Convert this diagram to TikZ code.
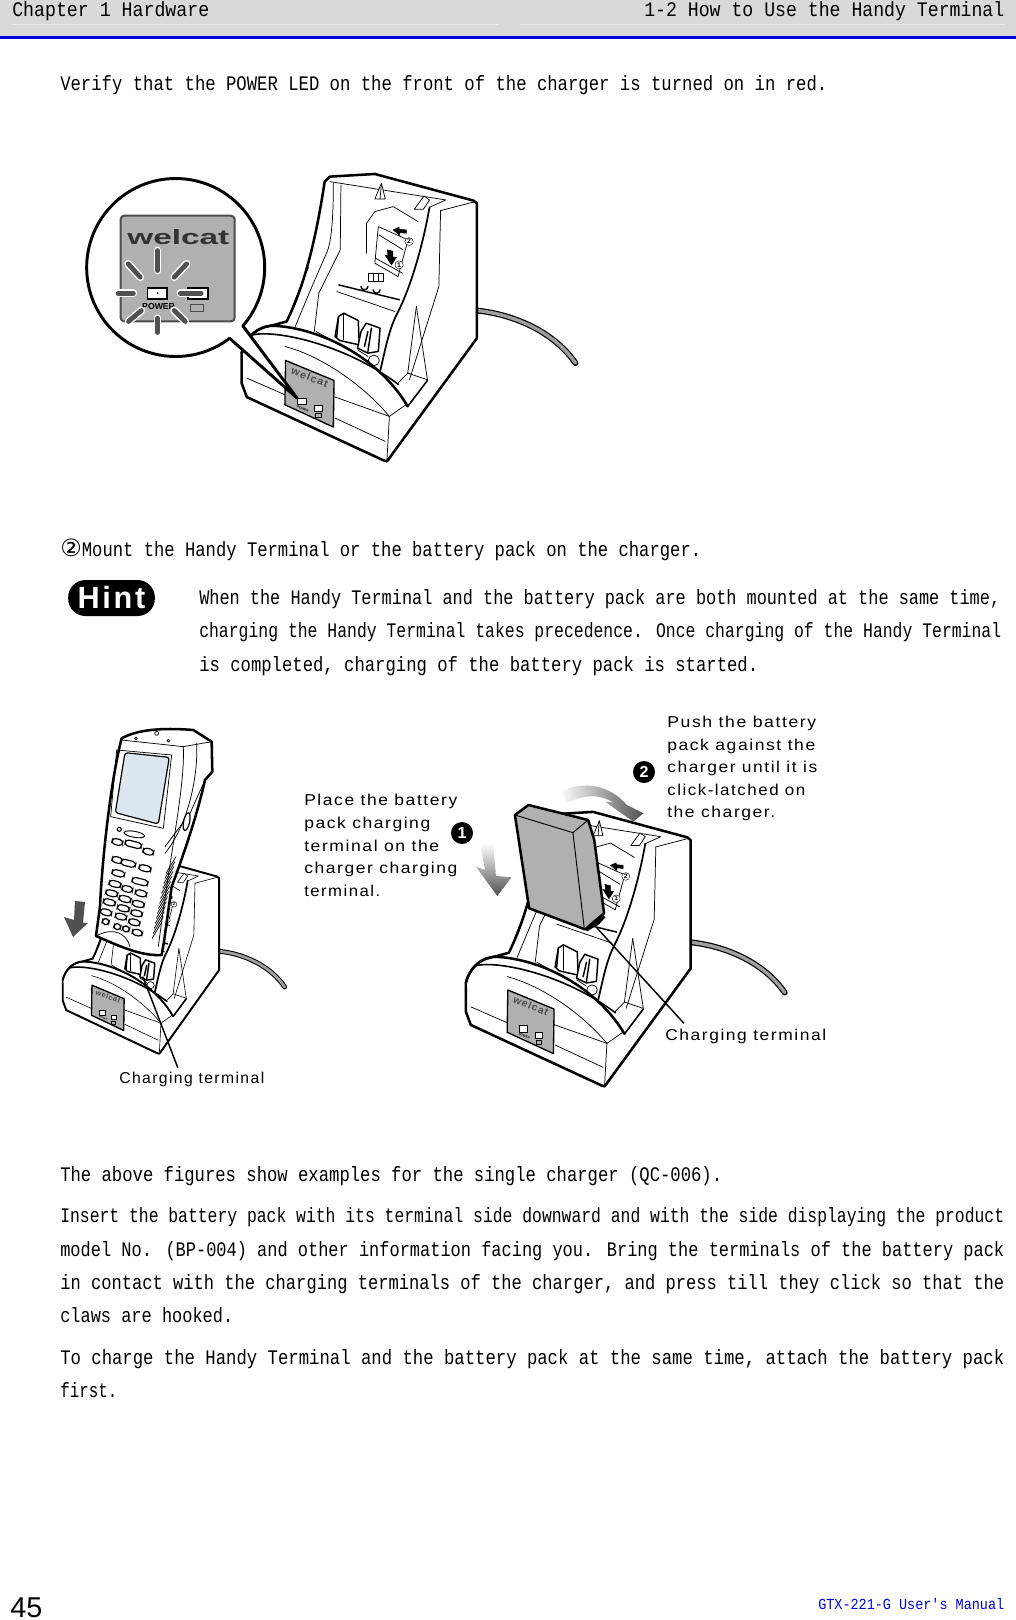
\documentclass[tikz,border=0pt]{standalone}
\usepackage{fontspec}
\newfontfamily\gothic{Liberation Mono}
\newfontfamily\lblfont[LetterSpace=9]{Liberation Sans}
\newfontfamily\logofont{Liberation Sans}
\newfontfamily\symfont{DejaVu Sans}
\usetikzlibrary{shapes.geometric,positioning,calc}
\definecolor{pagegray}{HTML}{D9D9D9}
\definecolor{panelgray}{HTML}{B0B0B0}
\definecolor{barblue}{HTML}{0000DD}
\definecolor{arrowgray}{HTML}{505050}
\definecolor{screenblue}{HTML}{DCE6EE}
\newlength\pxu
\setlength\pxu{.75pt}
\tikzset{
  bodyline/.style={line width=1.9pt,line join=round,line cap=round},
  thinline/.style={line width=.55pt,line join=round,line cap=round},
  cablecore/.style={line width=2.6pt,line cap=round,color=gray!75},
  cableedge/.style={line width=4.4pt,line cap=round},
  txt/.style={inner sep=0pt,anchor=base west,font=\gothic\fontsize{15.5}{18}\selectfont},
  lbl/.style={inner sep=0pt,anchor=base west,font=\lblfont\fontsize{11.8}{14}\selectfont},
  numdot/.style={circle,fill=black,text=white,inner sep=0pt,minimum size=16.5pt,font=\logofont\bfseries\fontsize{12}{12}\selectfont},
  raywhite/.style={line width=5.8pt,line cap=round,white},
  raydark/.style={line width=3.6pt,line cap=round,arrowgray},
  tinylabel/.style={inner sep=0pt,transform shape,font=\logofont\bfseries\fontsize{15}{15}\selectfont},
  charger/.pic={
    % cable
    \draw[cableedge] (1205,482) .. controls (1320,495) and (1430,550) .. (1490,640);
    \draw[cablecore] (1205,482) .. controls (1320,495) and (1430,550) .. (1490,640);
    % tower and base
    \draw[bodyline,fill=white] (655,515) .. controls (700,420) and (735,300) .. (765,95) -- (780,80)
      -- (910,72) -- (1195,152) -- (1205,160) -- (1205,565) -- (945,935) -- (935,932) -- (540,742)
      -- (525,700) -- (525,610) .. controls (535,565) and (570,535) .. (620,525) -- cycle;
    % inside of the tower
    \draw[thinline] (790,100) .. controls (790,200) and (785,280) .. (770,310) -- (720,430) -- (680,530);
    \draw[thinline] (812,105) -- (810,300) -- (748,430) -- (735,545);
    \draw[thinline] (718,352) -- (672,470);
    \draw[thinline] (780,95) -- (1115,150) -- (1068,172);
    \draw[thinline] (1100,182) -- (1200,155);
    \draw[thinline] (1100,182) -- (1095,410) -- (1010,690);
    \draw[bodyline,line width=1.3pt] (1068,172) .. controls (1050,280) and (1015,410) .. (975,490)
      .. controls (950,540) and (940,600) .. (925,665);
    \draw[thinline] (1030,470) -- (1005,670) -- (975,702);
    \draw[thinline] (1030,470) -- (1062,690) -- (1005,670);
    \draw[thinline,fill=white] (929,100) -- (910,147) -- (940,147) -- cycle;
    \draw[thinline] (929,100) -- (925,147);
    \draw[thinline,fill=white] (1052,138) -- (1024,178) -- (1050,178) -- (1068,150) -- cycle;
    % sticker on the back
    \draw[thinline] (886,310) -- (886,220) -- (910,185) -- (963,170) -- (1035,215);
    \draw[thinline] (920,230) -- (1006,270) -- (977,380) -- (910,340) -- cycle;
    \draw[thinline] (922,255) -- (992,300);
    \draw[thinline] (912,325) -- (990,370);
    \draw[fill=black] (963,240) -- (980,232) -- (980,238) -- (1001,240) -- (1001,250) -- (982,248) -- (982,256) -- cycle;
    \draw[fill=black] (946,300) -- (962,304) -- (962,322) -- (972,322) -- (958,345) -- (940,316) -- (948,318) -- cycle;
    \node[tinylabel,draw,line width=.3pt,circle,fill=white,minimum size=18pt] (stick2) at (1009,275) {2};
    \node[tinylabel,draw,line width=.3pt,circle,fill=white,minimum size=18pt] (stick1) at (980,345) {1};
    \draw[thinline] (890,370) rectangle (934,395);
    \draw[thinline] (905,370) -- (905,395) (920,370) -- (920,395);
    % ledge and terminals
    \draw[line width=1.1pt] (805,405) -- (982,450);
    \draw[thinline] (800,425) -- (968,485);
    \draw[bodyline,line width=1.1pt] (870,410) arc[start angle=180,end angle=0,radius=10];
    \draw[bodyline,line width=1.1pt] (905,420) arc[start angle=180,end angle=0,radius=10];
    \draw[bodyline,line width=1.1pt,fill=white] (795,560) -- (805,500) -- (820,490) -- (862,512) -- (865,585) -- (842,580) -- (808,572) -- cycle;
    \draw[thinline] (820,490) -- (820,570);
    \draw[bodyline,line width=1.1pt] (805,500) -- (800,560);
    \draw[bodyline,line width=1.1pt,fill=white] (870,545) -- (885,520) -- (925,535) -- (920,605) -- (890,610) -- (860,595) -- cycle;
    \draw[bodyline,line width=1.1pt] (890,545) -- (880,590);
    \draw[bodyline,line width=1.1pt] (900,535) -- (890,605);
    \draw[thinline] (740,545) -- (800,580);
    \draw[thinline] (860,600) -- (890,620);
    \draw[thinline,fill=white] (907,632) circle[radius=16];
    % front hump
    \fill[white] (528,612) .. controls (540,568) and (570,532) .. (620,532)
      .. controls (750,540) and (915,625) .. (998,762) -- (955,800) -- (790,740) -- (650,700) -- (540,680) -- cycle;
    \draw[bodyline] (525,610) .. controls (535,565) and (570,525) .. (620,528)
      .. controls (750,535) and (920,620) .. (1005,770);
    \draw[bodyline,line width=1.2pt] (558,555) .. controls (620,540) and (820,580) .. (978,704);
    \draw[bodyline,line width=1.2pt] (1005,770) -- (1062,692);
    \draw[thinline] (650,590) .. controls (760,620) and (880,710) .. (952,800) -- (1000,765);
    \draw[thinline] (952,800) -- (945,930);
    \draw[thinline] (540,685) -- (650,735);
    \draw[thinline] (790,740) -- (952,800);
    \draw[thinline] (795,805) -- (940,875);
    % front panel
    \draw[thinline,line width=1pt,fill=panelgray] (652,632) -- (792,692) -- (790,832) -- (650,765) -- cycle;
    \node[inner sep=0pt,rotate=-22,transform shape,font=\lblfont\bfseries\fontsize{24}{24}\selectfont,text=black!70] (panelword) at (722,682) {welcat};
    \draw[thinline,line width=.8pt,fill=white] (686,745) rectangle (712,765);
    \draw[thinline,line width=.8pt,fill=white] (735,767) rectangle (758,785);
    \draw[thinline] (737,790) rectangle (755,803);
    \node[inner sep=0pt,rotate=-22,transform shape,font=\logofont\bfseries\fontsize{7}{7}\selectfont] (panelpower) at (702,778) {POWER};
  }
}
\newcommand{\txtline}[5]{\node[txt] (#1) at (#2,#3) {\resizebox{#4\pxu}{\height}{#5}};}
\newcommand{\lblline}[5]{\node[lbl] (#1) at (#2,#3) {\resizebox{#4\pxu}{\height}{#5}};}
\begin{document}
\begin{tikzpicture}[x=.75pt,y=-.75pt]
    \useasboundingbox (0,0) rectangle (1016,1620);
    % page head
    \fill[pagegray] (0,0) rectangle (1016,36);
    \fill[barblue] (0,36) rectangle (1016,39);
    \draw[white!92!black,line width=.6pt] (12,24) -- (498,24) (520,24) -- (1005,24);
    \txtline{head1}{12}{17}{197}{Chapter 1 Hardware}
    \txtline{head2}{644}{17}{360}{1-2 How to Use the Handy Terminal}
    % running text
    \txtline{verify}{60}{90}{767}{Verify that the POWER LED on the front of the charger is turned on in red.}
    \txtline{mount}{60}{556}{641}{\scalebox{1.4}[1.15]{\symfont ②}Mount the Handy Terminal or the battery pack on the charger.}
    \node[fill=black,rounded corners=13pt,minimum width=65pt,minimum height=27pt,inner sep=0pt,text=white,font=\lblfont\bfseries\fontsize{23}{23}\selectfont] (hint) at (111.5,598) {Hint};
    \txtline{hint1}{199}{604}{801}{When the Handy Terminal and the battery pack are both mounted at the same time,}
    \txtline{hint2}{199}{637}{802}{charging the Handy Terminal takes precedence. Once charging of the Handy Terminal}
    \txtline{hint3}{199}{671}{559}{is completed, charging of the battery pack is started.}
    \txtline{body1}{60}{1181}{662}{The above figures show examples for the single charger (QC-006).}
    \txtline{body2}{60}{1222}{944}{Insert the battery pack with its terminal side downward and with the side displaying the product}
    \txtline{body3}{60}{1256}{944}{model No. (BP-004) and other information facing you. Bring the terminals of the battery pack}
    \txtline{body4}{60}{1289}{944}{in contact with the charging terminals of the charger, and press till they click so that the}
    \txtline{body5}{60}{1322}{173}{claws are hooked.}
    \txtline{body6}{60}{1364}{944}{To charge the Handy Terminal and the battery pack at the same time, attach the battery pack}
    \txtline{body7}{60}{1397}{57}{first.}
    % page foot
    \node[inner sep=0pt,anchor=base west,font=\logofont\fontsize{21.5}{22}\selectfont] (pageno) at (10,1617) {\resizebox{32\pxu}{\height}{45}};
    \node[inner sep=0pt,anchor=base west,text=barblue,font=\gothic\fontsize{11.5}{12}\selectfont] (foot) at (818,1609) {\resizebox{186\pxu}{\height}{GTX-221-G User's Manual}};
    % top figure
    \pic at (60,150) [xscale=.346,yscale=.333] {charger};
    \draw[bodyline,line width=2.2pt,fill=white] (229.6,338.3) arc[start angle=52.7,end angle=401,radius=89]
      -- (297,398) -- cycle;
    \begin{scope}[shift={(60,150)},xscale=.346,yscale=.333]
      \draw[line width=1.5pt,color=black!70,fill=panelgray,rounded corners=3pt] (175,197) rectangle (505,515);
      \node[inner sep=0pt,font=\logofont\bfseries\fontsize{18}{18}\selectfont,text=black!80] (bigword) at (342,262) {\resizebox{102\pxu}{15\pxu}{welcat}};
      \draw[line width=1.4pt,fill=white] (253,414) rectangle (310,447);
      \fill (282,430) circle[radius=3];
      \draw[line width=1.4pt,fill=white] (370,414) rectangle (428,447);
      \node[inner sep=0pt,font=\logofont\bfseries\fontsize{6.5}{7}\selectfont] (bigpower) at (285,470) {POWER};
      \draw[line width=.5pt,color=black!70] (378,462) rectangle (415,484);
      \foreach \xa/\ya/\xb/\yb in {282/302/282/362,197/342/232/382,366/342/330/382,168/430/212/430,348/430/408/430,235/482/198/515,282/505/282/548,330/482/362/515}{
        \draw[raywhite] (\xa,\ya) -- (\xb,\yb);
        \draw[raydark] (\xa,\ya) -- (\xb,\yb);
      }
    \end{scope}
    % middle left figure
    \pic at (-58,842) [xscale=.23,yscale=.2265,bodyline/.append style={line width=1.45pt},thinline/.append style={line width=.45pt},cableedge/.append style={line width=3.6pt},cablecore/.append style={line width=2.1pt}] {charger};
    \begin{scope}[shift={(40,700)},scale=.3333]
      \draw[bodyline,fill=white] (245,115) .. controls (290,90) and (360,82) .. (460,90) -- (515,125) -- (517,215)
        -- (495,240) .. controls (475,330) and (440,440) .. (395,560) -- (372,725) -- (365,765)
        .. controls (300,770) and (220,730) .. (168,708) -- (180,620) .. controls (185,500) and (210,250) .. (245,115) -- cycle;
      \draw[thinline] (245,120) -- (430,140) -- (515,125);
      \draw[thinline] (430,140) .. controls (435,260) and (395,430) .. (355,740);
      \draw[thinline] (470,130) .. controls (475,240) and (440,380) .. (375,460);
      \draw[thinline] (495,240) -- (450,340) -- (375,440);
      \draw[thinline] (168,708) .. controls (220,680) and (260,700) .. (270,740);
      \draw[thinline] (230,150) -- (395,165) -- (370,385) -- (212,350) -- cycle;
      \draw[line width=.9pt,fill=screenblue,rounded corners=2pt] (255,158) -- (388,172) -- (355,372) -- (226,338) -- cycle;
      \draw[thinline] (288,115) circle[radius=4];
      \draw[thinline] (385,122) circle[radius=4];
      \draw[thinline] (350,100) circle[radius=6];
      \draw[line width=.9pt,fill=white,rotate around={-12:(440,365)}] (440,365) ellipse[x radius=9,y radius=27];
      % keys
      \draw[line width=.8pt] (238,388) circle[radius=6];
      \draw[line width=.7pt,rotate around={-10:(283,403)}] (283,403) ellipse[x radius=31,y radius=9];
      \foreach \kx/\ky/\kw in {232/426/16,280/433/25,325/455/16,232/480/16,315/505/18,235/520/19,300/545/24,265/490/22,225/552/18,262/567/16,303/580/17,215/580/18,255/597/18,295/612/18,208/607/18,250/625/18,290/640/17,198/637/17,243/650/17,283/667/17,197/665/10,232/680/10,258/687/10,292/698/15}{
        \draw[line width=.9pt,fill=white,rounded corners=2.5pt,rotate around={-14:(\kx,\ky)}] ([shift={(-\kw,-9)}]\kx,\ky) rectangle ([shift={(\kw,9)}]\kx,\ky);
      }
      % vents
      \foreach \vy in {0,...,13}{
        \draw[thinline] ({408-\vy*3.2},{470+\vy*15}) -- ({378-\vy*3.2},{520+\vy*15});
      }
      \fill[arrowgray] (105,603) -- (135,606) -- (129,669) -- (144,669) -- (99,711) -- (72,651) -- (102,660) -- cycle;
    \end{scope}
    \coordinate (termL) at (143,977);
    \lblline{chargeL}{119}{1083}{145}{Charging terminal}
    \draw[bodyline,line width=1.1pt] (termL) -- ([shift={(44pt,3pt)}]chargeL.north west);
    % middle right figure
    \pic at (292.4,789) [xscale=.3304,yscale=.318] {charger};
    \begin{scope}[shift={(440,700)},xscale=.339,yscale=.3333]
      \draw[bodyline,fill=panelgray] (221,345) -- (261,315) -- (437,360) -- (455,420) -- (484,640) -- (428,688) -- (263,625) -- cycle;
      \draw[thinline,line width=.7pt] (221,345) -- (392,398) -- (437,360);
      \draw[thinline,line width=.7pt] (392,398) -- (425,680);
      \fill (428,688) -- (480,645) -- (488,652) -- (470,672) -- (434,694) -- cycle;
      \shade[top color=white,bottom color=arrowgray] (118,430) -- (157,430) -- (165,528) -- (211,532) -- (169,588) -- (106,500) -- (133,510) -- cycle;
      \shade[left color=white,right color=arrowgray] (354,275) .. controls (423,240) and (501,255) .. (551,315)
        -- (600,340) -- (570,365) -- (487,305) -- (511,308) .. controls (470,280) and (420,285) .. (374,310) -- cycle;
    \end{scope}
    \node[numdot] (one) at (462,833) {1};
    \node[numdot] (two) at (644,772) {2};
    \coordinate (termR) at (597,928);
    \lblline{chargeR}{665}{1040}{161}{Charging terminal}
    \draw[bodyline,line width=1.1pt] (termR) -- ([shift={(14pt,4pt)}]chargeR.north west);
    % callouts
    \lblline{place1}{304}{805}{153}{Place the battery}
    \lblline{place2}{304}{828}{126}{pack charging}
    \lblline{place3}{304}{851}{135}{terminal on the}
    \lblline{place4}{304}{873}{153}{charger charging}
    \lblline{place5}{304}{896}{76}{terminal.}
    \lblline{push1}{667}{727}{149}{Push the battery}
    \lblline{push2}{667}{750}{148}{pack against the}
    \lblline{push3}{667}{772}{150}{charger until it is}
    \lblline{push4}{667}{795}{138}{click-latched on}
    \lblline{push5}{667}{817}{108}{the charger.}
\end{tikzpicture}
\end{document}
